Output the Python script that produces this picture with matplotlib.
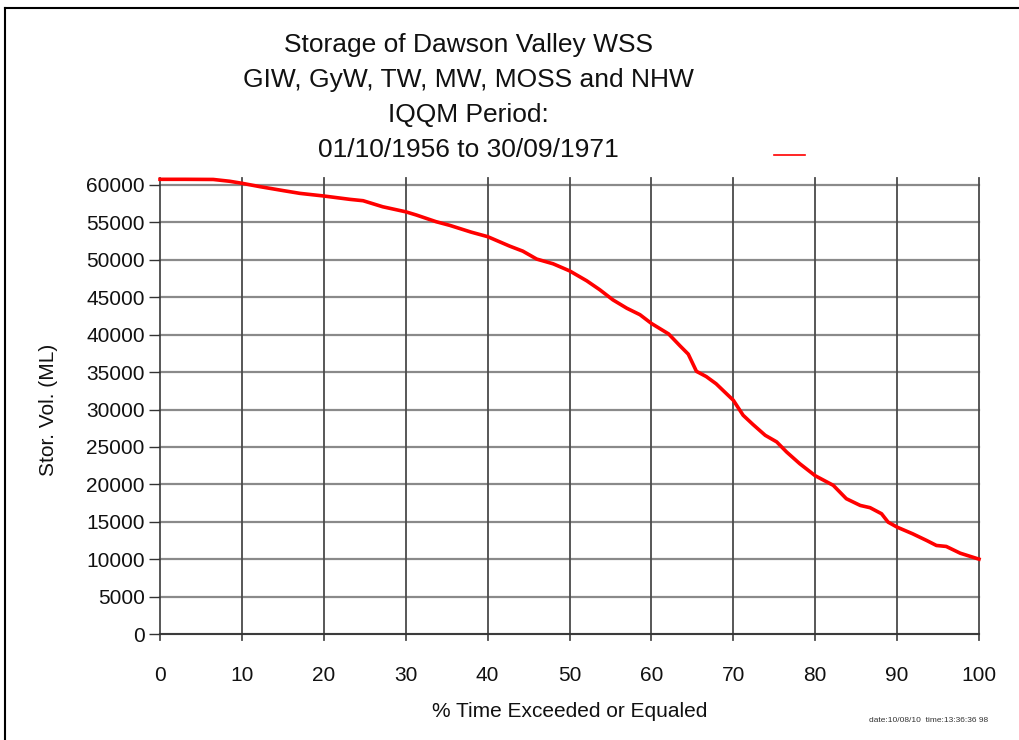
"""Storage duration curve for Dawson Valley WSS."""

import matplotlib

matplotlib.use("Agg")

import matplotlib.pyplot as plt
from matplotlib.lines import Line2D

# percent of time exceeded or equaled
pct_time = [0, 3, 6.5, 8.5, 10, 12.2, 15.1, 17.1, 20, 23.2, 24.8, 27.2, 30, 31.3,
            33.7, 35.4, 38, 40, 42.7, 44.3, 46, 48, 50, 52.1, 53.7, 55.3, 57,
            58.6, 60, 62.1, 63.5, 64.5, 65.5, 66.7, 67.9, 69.1, 70, 71.2, 72.4,
            73.9, 75.3, 76.5, 78.1, 80, 82.2, 83.8, 85.5, 86.7, 88.1, 88.9, 90,
            91.9, 93.6, 94.8, 96, 97.7, 100]
# storage volume (ML)
storage = [60760, 60760, 60740, 60500, 60230, 59780, 59240, 58880, 58530, 58080,
           57900, 57090, 56420, 55990, 55100, 54600, 53700, 53100, 51830, 51160,
           50100, 49470, 48530, 47200, 46000, 44650, 43530, 42670, 41500, 40100,
           38500, 37400, 35100, 34400, 33440, 32180, 31240, 29230, 28000, 26550,
           25670, 24330, 22770, 21150, 19870, 18080, 17180, 16880, 16070, 14950,
           14280, 13390, 12500, 11830, 11700, 10800, 10000]

x_ticks = list(range(0, 101, 10))
y_ticks = list(range(0, 60001, 5000))

title_lines = [
    "Storage of Dawson Valley WSS",
    "GIW, GyW, TW, MW, MOSS and NHW",
    "IQQM Period:",
    "01/10/1956 to 30/09/1971",
]

FONT = ["Liberation Sans Narrow", "Liberation Sans", "DejaVu Sans"]
RED = "#FF0000"


def main():
    fig = plt.figure(figsize=(10.19, 7.40), dpi=100)
    fig.patch.set_facecolor("white")
    ax = fig.add_axes([160 / 1019, 1 - 634 / 740, 819 / 1019, 449 / 740])

    ax.set_xlim(0, 100)
    ax.set_ylim(0, 60000)
    for side in ("top", "right", "left", "bottom"):
        ax.spines[side].set_visible(False)

    # grid drawn by hand so verticals poke slightly past the plot box
    for yv in y_ticks:
        ax.plot([0, 100], [yv, yv], color="#8a8a8a", linewidth=1.6,
                clip_on=False, zorder=1)
    for xv in x_ticks:
        ax.plot([xv, xv], [-800, 60900], color="#4a4a4a", linewidth=1.3,
                clip_on=False, zorder=1)
    ax.plot([0, 100], [0, 0], color="#333333", linewidth=1.3, clip_on=False,
            zorder=1)

    ax.plot(pct_time, storage, color=RED, linewidth=2.6, clip_on=False, zorder=3)

    ax.set_xticks(x_ticks)
    ax.set_yticks(y_ticks)
    ax.tick_params(axis="y", length=8, width=1.0, color="#333333", pad=3,
                   labelsize=15)
    ax.tick_params(axis="x", length=0, pad=23, labelsize=15)
    for lab in ax.get_xticklabels() + ax.get_yticklabels():
        lab.set_family(FONT)
        lab.set_color("#111111")

    ax.set_xlabel("% Time Exceeded or Equaled", fontsize=15, family=FONT,
                  labelpad=12, color="#111111")
    ax.set_ylabel("Stor. Vol. (ML)", fontsize=15, family=FONT, labelpad=20,
                  color="#111111")

    for i, line in enumerate(title_lines):
        fig.text(468 / 1019, 1 - (45 + 35 * i) / 740, line, ha="center",
                 va="center", fontsize=19, family=FONT, color="#111111")

    # stray legend sample near the top right
    fig.add_artist(Line2D([774 / 1019, 805 / 1019], [1 - 155 / 740, 1 - 155 / 740],
                          color=RED, linewidth=1.2))

    # outer frame, only top and left edges visible
    fig.add_artist(Line2D([5 / 1019, 1.0], [1 - 8 / 740, 1 - 8 / 740],
                          color="black", linewidth=1.5))
    fig.add_artist(Line2D([5 / 1019, 5 / 1019], [0.0, 1 - 8 / 740],
                          color="black", linewidth=1.5))

    fig.text(869 / 1019, 1 - 720 / 740, "date:10/08/10  time:13:36:36 98",
             fontsize=6, family=FONT, color="#333333", va="center")

    fig.savefig("out.png", dpi=100, facecolor="white")
    plt.close(fig)


if __name__ == "__main__":
    main()
